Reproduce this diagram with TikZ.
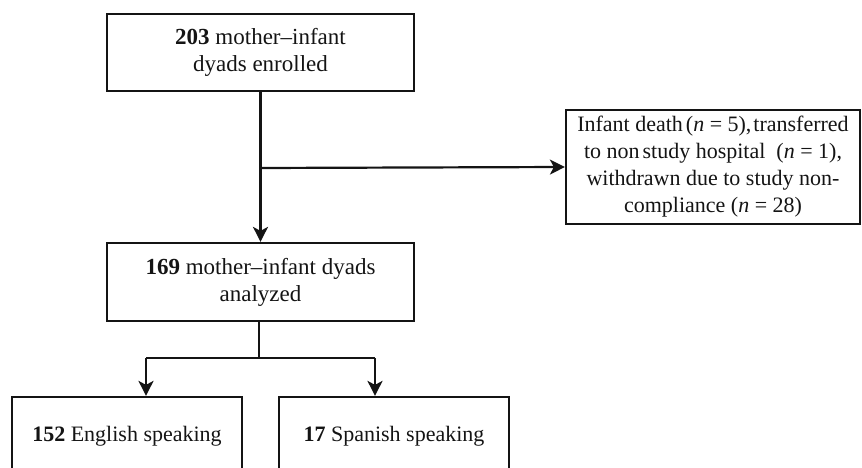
\documentclass[tikz,border=0pt]{standalone}
\usepackage{fontspec}
\setmainfont{Liberation Serif}
\usetikzlibrary{arrows.meta}
\definecolor{ink}{HTML}{141414}
\tikzset{
  box/.style={draw=ink, line width=2.2pt, align=center, inner sep=0pt,
    font=\fontsize{23}{27}\selectfont, text=ink},
  smallbox/.style={box, font=\fontsize{22}{27}\selectfont},
  conn/.style={draw=ink, line width=2.2pt},
  arr/.style={conn, -{Stealth[length=15pt,width=15pt,inset=4pt]}}
}
\begin{document}
\begin{tikzpicture}[x=1pt,y=-1pt]
\useasboundingbox (0,0) rectangle (862,468);
\clip (0,0) rectangle (862,468);
\node[box, minimum width=307pt, minimum height=77pt] (enrolled) at (260.5,52.5)
  {\textbf{203} mother--infant\\dyads enrolled};
\node[smallbox, minimum width=294pt, minimum height=114pt] (excl) at (713,167)
  {Infant death\hspace{3pt}(\textit{n} = 5),\hspace{2pt}transferred\\
   to non\hspace{3pt}study hospital \ (\textit{n} = 1),\\
   withdrawn due to study non-\\
   compliance (\textit{n} = 28)};
\node[box, minimum width=307pt, minimum height=78pt] (analyzed) at (260.5,282)
  {\textbf{169} mother--infant dyads\\analyzed};
\node[smallbox, minimum width=230pt, minimum height=78pt] (english) at (127,436)
  {\textbf{152} English speaking};
\node[smallbox, minimum width=230pt, minimum height=78pt] (spanish) at (394,436)
  {\textbf{17} Spanish speaking};
\coordinate (split) at (260.5,168);
\coordinate (fork) at (259,358);
\coordinate (forkL) at (146,358);
\coordinate (forkR) at (375,358);
\draw[arr] (enrolled.south) -- (analyzed.north);
\draw[arr] (split) -- (excl.west);
\draw[conn] (analyzed.south -| fork) -- (fork);
\draw[conn] (forkL) -- (forkR);
\draw[arr] (forkL) -- (forkL |- english.north);
\draw[arr] (forkR) -- (forkR |- spanish.north);
\end{tikzpicture}
\end{document}
